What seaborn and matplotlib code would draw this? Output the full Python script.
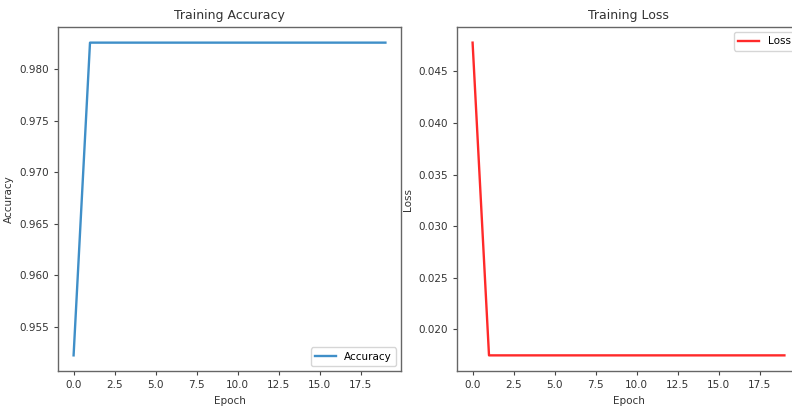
import matplotlib
matplotlib.use("Agg")
import matplotlib.pyplot as plt
import seaborn as sns
import numpy as np

epochs = list(range(20))
accuracy = [0.9522] + [0.9826] * 19
loss = [0.0478] + [0.01745] * 19

plt.rcParams['font.family'] = ['DejaVu Sans']
fs = 7.5

W, H = 792, 411
fig = plt.figure(figsize=(W / 100, H / 100), dpi=100)
ax1 = fig.add_axes([58 / W, 1 - 371 / H, 343 / W, 344 / H])
ax2 = fig.add_axes([457 / W, 1 - 371 / H, 343 / W, 344 / H])

sns.lineplot(x=epochs, y=accuracy, ax=ax1, color='#3f8fc8', linewidth=1.7, label='Accuracy')
ax1.set_title('Training Accuracy', fontsize=9, color='#333333')
ax1.set_xlabel('Epoch', fontsize=fs, color='#333333')
ax1.set_ylabel('Accuracy', fontsize=fs, color='#333333')
ax1.legend(loc='lower right', fontsize=fs)
ax1.set_yticks([0.955, 0.960, 0.965, 0.970, 0.975, 0.980])

sns.lineplot(x=epochs, y=loss, ax=ax2, color='#ff2a2a', linewidth=1.7, label='Loss')
ax2.set_title('Training Loss', fontsize=9, color='#333333')
ax2.set_xlabel('Epoch', fontsize=fs, color='#333333')
ax2.set_ylabel('Loss', fontsize=fs, color='#333333')
ax2.legend(loc='upper right', fontsize=fs)
ax2.set_yticks([0.020, 0.025, 0.030, 0.035, 0.040, 0.045])

for ax in (ax1, ax2):
    ax.set_xticks([0, 2.5, 5, 7.5, 10, 12.5, 15, 17.5])
    ax.tick_params(labelsize=fs, color='#444444', labelcolor='#333333', length=3)
    for s in ax.spines.values():
        s.set_color('#666666')
        s.set_linewidth(1.0)

fig.savefig('out.png', dpi=100)
